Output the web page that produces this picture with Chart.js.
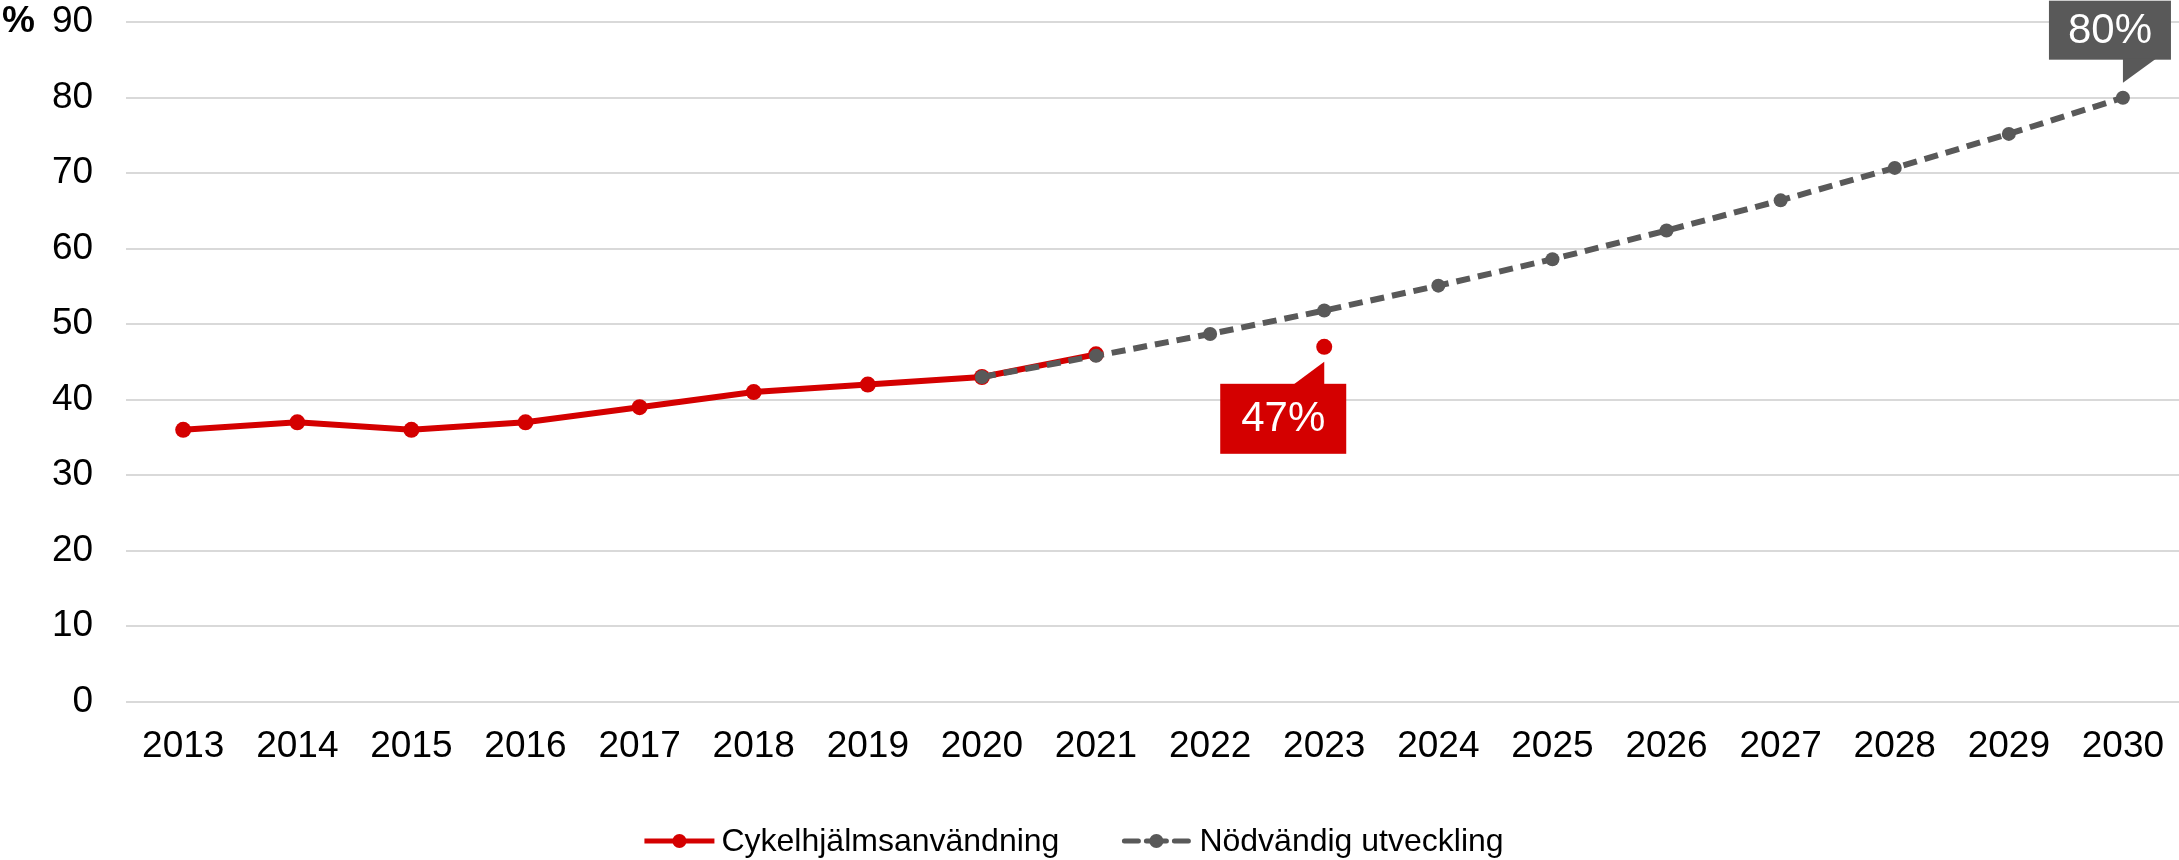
<!DOCTYPE html>
<html>
<head>
<meta charset="utf-8">
<script src="https://cdn.jsdelivr.net/npm/chart.js@4"></script>
<style>
  html, body { margin: 0; padding: 0; background: #fff; overflow: hidden; }
  #wrap { width: 2188px; height: 860px; }
</style>
</head>
<body>
<div id="wrap"><canvas id="myChart" width="2188" height="860"></canvas></div>
<script>
const years = ['2013', '2014', '2015', '2016', '2017', '2018', '2019', '2020', '2021',
  '2022', '2023', '2024', '2025', '2026', '2027', '2028', '2029', '2030'];

// measured helmet use, 2023 is a single point (no 2022 value)
const helmetUse = [36, 37, 36, 37, 39, 41, 42, 43, 46, null, 47,
  null, null, null, null, null, null, null];

// required development towards 80 % in 2030
const requiredTrend = [null, null, null, null, null, null, null, 43, 45.8,
  48.7, 51.8, 55.1, 58.6, 62.4, 66.4, 70.7, 75.2, 80];

const yTicks = [0, 10, 20, 30, 40, 50, 60, 70, 80, 90];
const seriesNames = ['Cykelhjälmsanvändning', 'Nödvändig utveckling'];
const unitLabel = '%';

const RED = '#d40000';
const GREY = '#595959';
const FONT = '"Liberation Sans", Arial, sans-serif';

function drawLegendSymbol(ctx, x, y, color, dashed) {
  ctx.save();
  ctx.strokeStyle = color;
  ctx.fillStyle = color;
  ctx.lineWidth = 5;
  ctx.lineCap = 'round';
  if (dashed) {
    ctx.beginPath();
    ctx.moveTo(x + 3, y); ctx.lineTo(x + 17, y);
    ctx.moveTo(x + 53, y); ctx.lineTo(x + 67, y);
    ctx.stroke();
    ctx.beginPath();
    ctx.arc(x + 35, y, 7, 0, Math.PI * 2);
    ctx.fill();
    ctx.beginPath();
    ctx.moveTo(x + 25, y); ctx.lineTo(x + 45, y);
    ctx.stroke();
  } else {
    ctx.lineCap = 'butt';
    ctx.beginPath();
    ctx.moveTo(x, y); ctx.lineTo(x + 70, y);
    ctx.stroke();
    ctx.beginPath();
    ctx.arc(x + 35, y, 7, 0, Math.PI * 2);
    ctx.fill();
  }
  ctx.restore();
}

function drawCallout(ctx, box, pointer, color, text) {
  ctx.save();
  ctx.fillStyle = color;
  ctx.fillRect(box.x, box.y, box.w, box.h);
  ctx.beginPath();
  ctx.moveTo(pointer[0][0], pointer[0][1]);
  ctx.lineTo(pointer[1][0], pointer[1][1]);
  ctx.lineTo(pointer[2][0], pointer[2][1]);
  ctx.closePath();
  ctx.fill();
  ctx.fillStyle = '#fff';
  ctx.font = '42px ' + FONT;
  ctx.textAlign = 'center';
  ctx.textBaseline = 'middle';
  ctx.fillText(text, box.x + box.w / 2, box.y + box.h / 2 + 1);
  ctx.restore();
}

const extrasPlugin = {
  id: 'extras',
  afterDatasetsDraw(chart) {
    const ctx = chart.ctx;
    const yScale = chart.scales.y;

    // unit label next to the top tick
    ctx.save();
    ctx.font = 'bold 37px ' + FONT;
    ctx.fillStyle = '#000';
    ctx.textAlign = 'left';
    ctx.textBaseline = 'middle';
    ctx.fillText(unitLabel, 2, yScale.getPixelForValue(yTicks[yTicks.length - 1]));
    ctx.restore();

    // callout for the measured 2023 value
    const redIdx = years.indexOf('2023');
    const rp = chart.getDatasetMeta(1).data[redIdx];
    const rb = { x: rp.x - 104, y: rp.y + 37, w: 126, h: 70 };
    drawCallout(ctx, rb, [[rp.x, rp.y + 15], [rp.x, rb.y + 1], [rp.x - 31, rb.y + 1]],
      RED, helmetUse[redIdx] + '%');

    // callout for the 2030 target
    const lastIdx = years.length - 1;
    const gp = chart.getDatasetMeta(0).data[lastIdx];
    const gb = { x: gp.x - 74, y: gp.y - 97, w: 122, h: 59 };
    drawCallout(ctx, gb, [[gp.x, gb.y + gb.h - 1], [gp.x, gp.y - 15], [gp.x + 33, gb.y + gb.h - 1]],
      GREY, requiredTrend[lastIdx] + '%');

    // legend
    ctx.save();
    ctx.font = '32px ' + FONT;
    ctx.fillStyle = '#000';
    ctx.textAlign = 'left';
    ctx.textBaseline = 'middle';
    const w1 = ctx.measureText(seriesNames[0]).width;
    const w2 = ctx.measureText(seriesNames[1]).width;
    const total = 70 + 7 + w1 + 62 + 70 + 8 + w2;
    let x = chart.width / 2 - 20 - total / 2;
    const ly = 841;
    drawLegendSymbol(ctx, x, ly, RED, false);
    ctx.fillText(seriesNames[0], x + 77, ly + 1);
    x += 77 + w1 + 62;
    drawLegendSymbol(ctx, x, ly, GREY, true);
    ctx.fillText(seriesNames[1], x + 78, ly + 1);
    ctx.restore();
  }
};

const ctx = document.getElementById('myChart').getContext('2d');
const chart = new Chart(ctx, {
  type: 'line',
  data: {
    labels: years,
    datasets: [
      {
        label: seriesNames[1],
        data: requiredTrend,
        borderColor: GREY,
        backgroundColor: GREY,
        borderWidth: 6,
        borderDash: [14, 8],
        pointRadius: 7,
        pointBackgroundColor: GREY,
        pointBorderWidth: 0,
        tension: 0,
        spanGaps: false
      },
      {
        label: seriesNames[0],
        data: helmetUse,
        borderColor: RED,
        backgroundColor: RED,
        borderWidth: 6,
        pointRadius: 8,
        pointBackgroundColor: RED,
        pointBorderWidth: 0,
        tension: 0,
        spanGaps: false
      }
    ]
  },
  options: {
    responsive: false,
    animation: false,
    devicePixelRatio: 1,
    layout: { padding: { left: 52, right: 0, top: 0, bottom: 91 } },
    plugins: {
      legend: { display: false },
      tooltip: { enabled: false }
    },
    scales: {
      x: {
        offset: true,
        grid: { display: true, drawOnChartArea: false, drawTicks: true, tickLength: 23, tickColor: 'rgba(0,0,0,0)', color: 'rgba(0,0,0,0)' },
        border: { display: false },
        ticks: { color: '#000', font: { size: 37, family: FONT }, padding: 0, maxRotation: 0, autoSkip: false }
      },
      y: {
        min: yTicks[0],
        max: yTicks[yTicks.length - 1],
        afterBuildTicks: axis => { axis.ticks = yTicks.map(v => ({ value: v })); },
        grid: { color: '#d9d9d9', lineWidth: 2, drawTicks: true, tickLength: 33, tickColor: 'rgba(0,0,0,0)' },
        border: { display: false },
        ticks: { color: '#000', font: { size: 37, family: FONT }, padding: 0 }
      }
    }
  },
  plugins: [extrasPlugin]
});
</script>
</body>
</html>
